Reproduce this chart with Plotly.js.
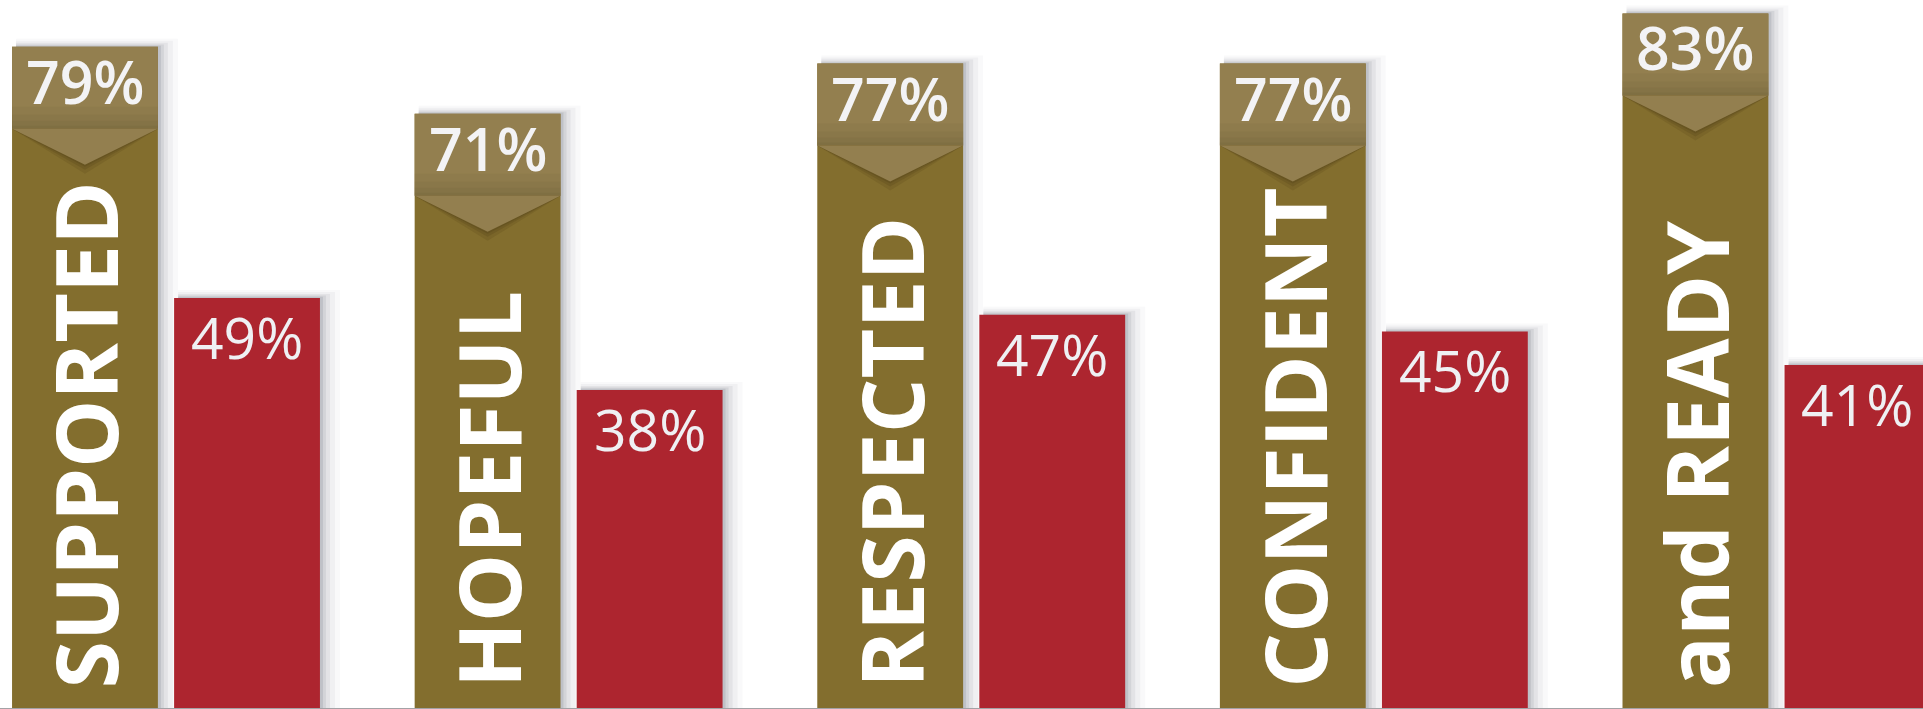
<!DOCTYPE html>
<html>
<head>
<meta charset="utf-8">
<script src="https://cdn.plot.ly/plotly-3.0.1.min.js"></script>
<style>
  html, body { margin: 0; padding: 0; background: #ffffff; }
  #chart { width: 1923px; height: 709px; }
</style>
</head>
<body>
<div id="chart"></div>
<script>
// ---- data ----
const categories = ['SUPPORTED', 'HOPEFUL', 'RESPECTED', 'CONFIDENT', 'and READY'];
const goldValues = [79, 71, 77, 77, 83];
const redValues = [49, 38, 47, 45, 41];
const goldLabels = goldValues.map(v => v + '%');
const redLabels = redValues.map(v => v + '%');

// ---- styling / layout constants ----
const W = 1923, H = 709;
const xRange = [-0.4123, 4.364];
const yRange = [0, 84.6];
const bargap = 0.195, bargroupgap = 0.1;
const slot = (1 - bargap) / 2;
const barHalf = slot * (1 - bargroupgap) / 2;
const goldOff = -slot / 2, redOff = slot / 2;
const plotH = H - 1;
const ppu = plotH / (yRange[1] - yRange[0]);
const ppx = W / (xRange[1] - xRange[0]);
const px2y = p => p / ppu;
const px2x = p => p / ppx;

const GOLD = '#836e2e', GOLD_TAB = '#937f4f', RED = '#ad252f';
const idx = categories.map((c, i) => i);

const traces = [
  { type: 'bar', x: idx, y: goldValues, name: 'gold', marker: { color: GOLD, line: { width: 0 } }, hoverinfo: 'none' },
  { type: 'bar', x: idx, y: redValues, name: 'red', marker: { color: RED, line: { width: 0 } }, hoverinfo: 'none' }
];

const shapes = [];
const annotations = [];

function addShadow(xc, top) {
  const l = xc - barHalf, r = xc + barHalf;
  [[3, 0.13], [6, 0.10], [10, 0.07], [15, 0.05], [20, 0.03]].forEach(([k, a]) => {
    shapes.push({
      type: 'rect', layer: 'below', xref: 'x', yref: 'y',
      x0: l + px2x(4), x1: r + px2x(k), y0: 0, y1: top + px2y(k * 0.4),
      fillcolor: 'rgba(70,76,92,' + a + ')', line: { width: 0 }
    });
  });
}

idx.forEach(i => {
  const gx = i + goldOff, rx = i + redOff;
  const gv = goldValues[i], rv = redValues[i];
  addShadow(gx, gv);
  addShadow(rx, rv);

  // tab on gold bar
  const l = gx - barHalf, r = gx + barHalf;
  const tabBottom = gv - px2y(82);
  const apex = tabBottom - px2y(36);
  // soft shadow around the arrow
  [[9, 0.12], [5, 0.14], [2, 0.16]].forEach(([k, a]) => {
    shapes.push({
      type: 'path', layer: 'above', xref: 'x', yref: 'y',
      path: `M ${l},${tabBottom} L ${r},${tabBottom} L ${gx},${apex - px2y(k)} Z`,
      fillcolor: 'rgba(55,44,12,' + a + ')', line: { width: 0 }
    });
  });
  shapes.push({
    type: 'rect', layer: 'above', xref: 'x', yref: 'y',
    x0: l, x1: r, y0: tabBottom, y1: gv,
    fillcolor: GOLD_TAB, line: { width: 0 }
  });
  [[22, 0.07], [14, 0.08], [8, 0.09], [3, 0.1]].forEach(([k, a]) => {
    shapes.push({
      type: 'rect', layer: 'above', xref: 'x', yref: 'y',
      x0: l, x1: r, y0: tabBottom, y1: tabBottom + px2y(k),
      fillcolor: 'rgba(90,76,42,' + a + ')', line: { width: 0 }
    });
  });
  shapes.push({
    type: 'path', layer: 'above', xref: 'x', yref: 'y',
    path: `M ${l},${tabBottom} L ${r},${tabBottom} L ${gx},${apex} Z`,
    fillcolor: GOLD_TAB, line: { width: 0 }
  });

  // value labels
  annotations.push({
    x: gx, y: gv, xref: 'x', yref: 'y', xanchor: 'center', yanchor: 'middle',
    yshift: -34, showarrow: false, text: goldLabels[i],
    font: { family: 'Open Sans, Noto Sans, sans-serif', size: 59, weight: 600, color: '#f3f3f5' }
  });
  annotations.push({
    x: rx, y: rv, xref: 'x', yref: 'y', xanchor: 'center', yanchor: 'middle',
    yshift: -39, showarrow: false, text: redLabels[i],
    font: { family: 'Open Sans, Noto Sans, sans-serif', size: 57, weight: 400, color: '#eff0f3' }
  });
  // category label, rotated inside gold bar
  annotations.push({
    x: gx, y: 0, xref: 'x', yref: 'y', xanchor: 'center', yanchor: 'bottom',
    yshift: 18, showarrow: false, textangle: -90, text: categories[i],
    font: { family: 'Open Sans, Noto Sans, sans-serif', size: 86, weight: 700, color: '#ffffff' }
  });
});

const layout = {
  width: W, height: H,
  margin: { l: 0, r: 0, t: 0, b: 1, pad: 0 },
  paper_bgcolor: '#ffffff', plot_bgcolor: '#ffffff',
  barmode: 'group', bargap: bargap, bargroupgap: bargroupgap,
  showlegend: false,
  xaxis: { range: xRange, type: 'linear', showgrid: false, zeroline: false, showticklabels: false, ticks: '',
           showline: true, linecolor: '#a3a3a6', linewidth: 2, fixedrange: true },
  yaxis: { range: yRange, showgrid: false, zeroline: false, showticklabels: false, ticks: '', showline: false, fixedrange: true },
  shapes: shapes,
  annotations: annotations
};

Plotly.newPlot('chart', traces, layout, { displayModeBar: false, staticPlot: true });
</script>
</body>
</html>
